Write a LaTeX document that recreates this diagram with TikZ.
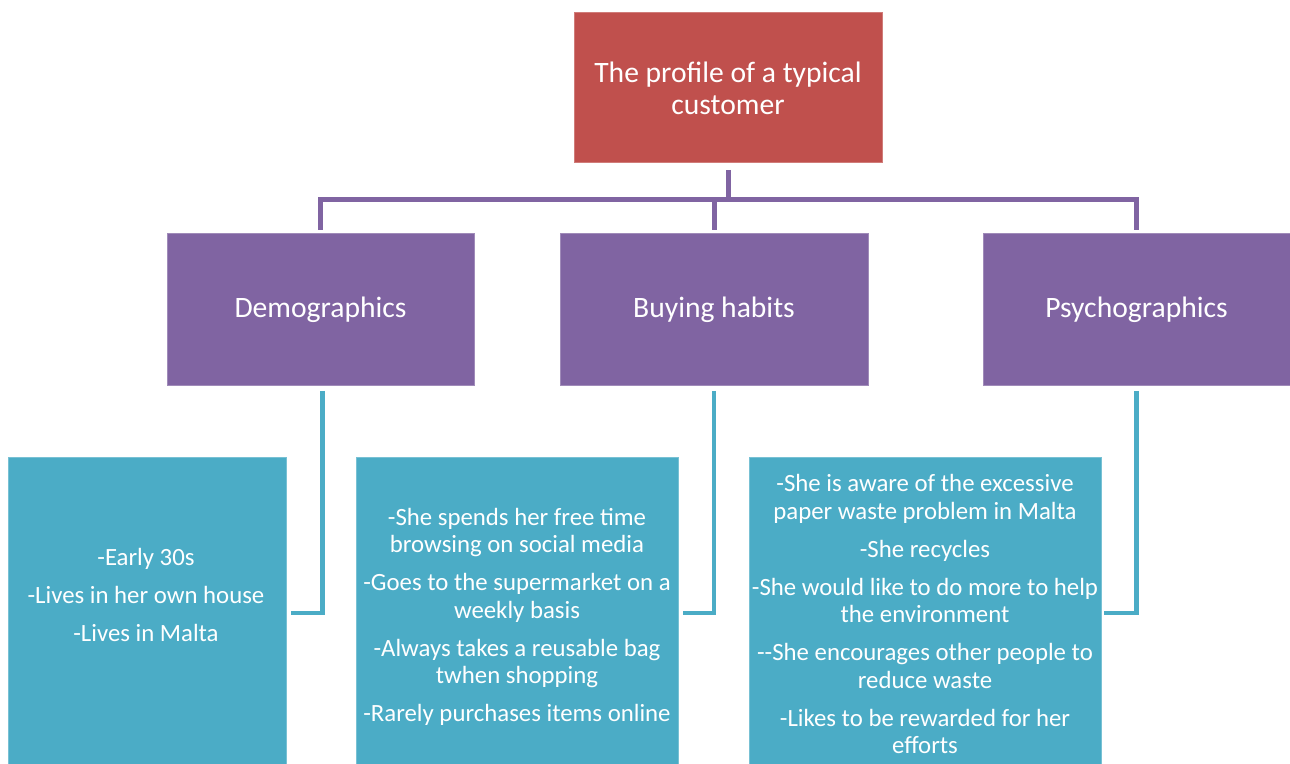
\documentclass[tikz,border=0pt]{standalone}
\usepackage{fontspec}
\setmainfont{Carlito}
\definecolor{cred}{HTML}{C0504D}
\definecolor{cpur}{HTML}{8064A2}
\definecolor{cblue}{HTML}{4BACC6}
\begin{document}
\begin{tikzpicture}[x=0.5pt,y=-0.5pt,
  box/.style={inner sep=0pt, outer sep=0pt, line width=0.5pt, text=white, align=center},
  redbox/.style={box, fill=cred, draw=cred!75!white, minimum width=154pt, minimum height=75pt, font=\fontsize{14.8}{16}\selectfont},
  purbox/.style={box, fill=cpur, draw=cpur!75!white, minimum width=153.5pt, minimum height=76pt, font=\fontsize{14.8}{16}\selectfont},
  bluebox/.style={box, fill=cblue, draw=cblue!75!white, minimum height=165pt},
  bluetext/.style={text=white, align=center, inner sep=0pt, font=\fontsize{12.4}{13.75}\selectfont},
  pline/.style={draw=cpur, line width=2.5pt},
  bline/.style={draw=cblue, line width=2.3pt}]
\useasboundingbox (0,0) rectangle (1290,764);
\clip (0,0) rectangle (1290,764);
% top
\node[redbox] (red) at (728,88) {\raisebox{-1pt}{\parbox{150pt}{\centering The profile of a typical\\customer}}};
% categories
\node[purbox] (demo) at (320.5,310) {\raisebox{-1.2pt}{Demographics}};
\node[purbox, minimum width=154pt] (buy) at (714,310) {\raisebox{-1.2pt}{Buying habits}};
\node[purbox] (psy) at (1136.5,310) {\raisebox{-1.2pt}{Psychographics}};
% detail boxes
\node[bluebox, minimum width=139pt] (b1) at (147,622) {};
\node[bluebox, minimum width=161pt] (b2) at (517,622) {};
\node[bluebox, minimum width=176pt] (b3) at (925,622) {};
\node[bluetext] (t1) at (146,595) {-Early 30s\\[5.25pt]-Lives in her own house\\[5.25pt]-Lives in Malta};
\node[bluetext] (t2) at (517,617) {-She spends her free time\\browsing on social media\\[5.25pt]-Goes to the supermarket on a\\weekly basis\\[5.25pt]-Always takes a reusable bag\\twhen shopping\\[5.25pt]-Rarely purchases items online};
\node[bluetext] (t3) at (925,614) {-She is aware of the excessive\\paper waste problem in Malta\\[5.25pt]-She recycles\\[5.25pt]-She would like to do more to help\\the environment\\[5.25pt]-{}-She encourages other people to\\reduce waste\\[5.25pt]-Likes to be rewarded for her\\efforts};
% purple connectors
\draw[pline] (red.south |- 0,170) -- (red.south |- 0,200);
\draw[pline] (demo.north |- 0,230) -- (demo.north |- 0,200) -- (psy.north |- 0,200) -- (psy.north |- 0,230);
\draw[pline] (buy.north |- 0,200) -- (buy.north |- 0,230);
% blue connectors
\coordinate (e1) at ([xshift=2.5pt]b1.east);
\coordinate (e2) at ([xshift=2.5pt]b2.east);
\coordinate (e3) at ([xshift=1.5pt]b3.east);
\draw[bline] ([xshift=1pt]demo.south |- 0,391) -- ([xshift=1pt]demo.south |- 0,613) -- (e1 |- 0,613);
\draw[bline] (buy.south |- 0,391) -- (buy.south |- 0,613) -- (e2 |- 0,613);
\draw[bline] (psy.south |- 0,391) -- (psy.south |- 0,613) -- (e3 |- 0,613);
\end{tikzpicture}
\end{document}
